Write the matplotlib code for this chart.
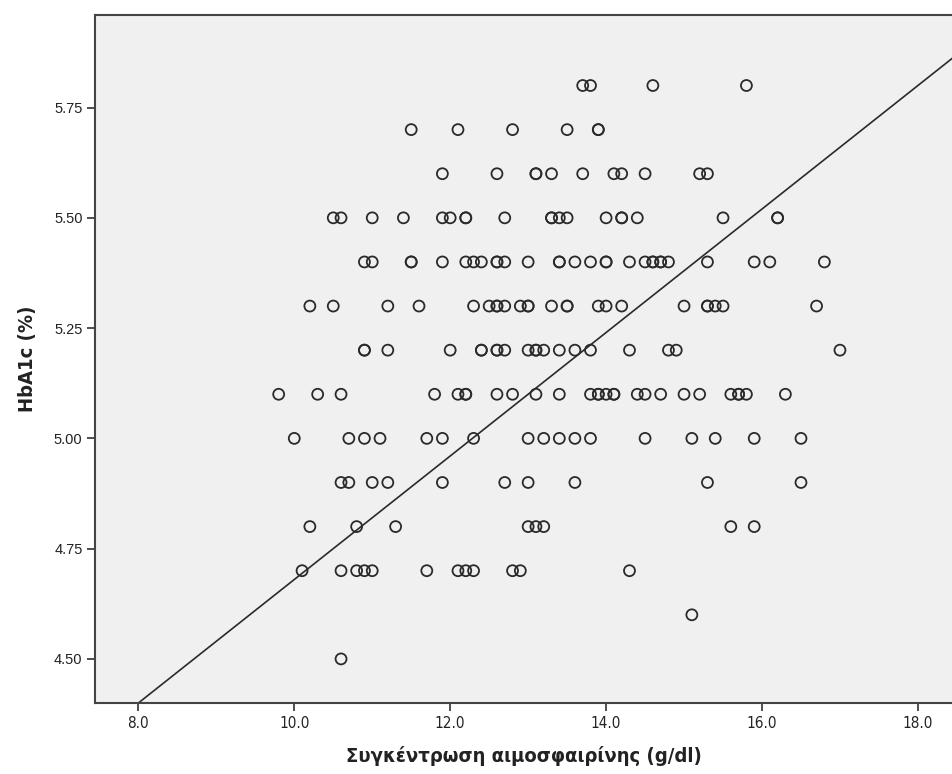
import numpy as np
import matplotlib
matplotlib.use("Agg")
from matplotlib import pyplot as plt

# Hemoglobin (g/dl) and HbA1c (%), one row of HbA1c per line
hemoglobin = [
    13.7, 13.8, 14.6, 15.8,
    11.5, 12.1, 12.8, 13.5, 13.9, 13.9,
    11.9, 12.6, 13.1, 13.1, 13.3, 13.7, 14.1, 14.2, 14.5, 15.2, 15.3,
    10.5, 10.6, 11.0, 11.4, 11.9, 12.0, 12.2, 12.2, 12.7, 13.3, 13.3, 13.4, 13.5, 14.0, 14.2, 14.2, 14.4, 15.5, 16.2, 16.2,
    10.9, 11.0, 11.5, 11.5, 11.9, 12.2, 12.3, 12.4, 12.6, 12.6, 12.7, 13.0, 13.4, 13.4, 13.6, 13.8, 14.0, 14.0, 14.3,
    14.5, 14.6, 14.6, 14.7, 14.7, 14.8, 15.3, 15.9, 16.1, 16.8,
    10.2, 10.5, 11.2, 11.6, 12.3, 12.5, 12.6, 12.6, 12.7, 12.9, 13.0, 13.0, 13.3, 13.5, 13.5, 13.9, 14.0, 14.2,
    15.0, 15.3, 15.3, 15.4, 15.5, 16.7,
    10.9, 10.9, 11.2, 12.0, 12.4, 12.4, 12.6, 12.6, 12.7, 13.0, 13.1, 13.1, 13.2, 13.4, 13.6, 13.8, 14.3, 14.8, 14.9, 17.0,
    9.8, 10.3, 10.6, 11.8, 12.1, 12.2, 12.2, 12.6, 12.8, 13.1, 13.4, 13.8, 13.9, 13.9, 14.0, 14.1, 14.1, 14.4, 14.5,
    14.7, 15.0, 15.2, 15.6, 15.7, 15.7, 15.8, 16.3,
    10.0, 10.7, 10.9, 11.1, 11.7, 11.9, 12.3, 13.0, 13.2, 13.4, 13.6, 13.8, 14.5, 15.1, 15.4, 15.9, 16.5,
    10.6, 10.7, 11.0, 11.2, 11.9, 12.7, 13.0, 13.6, 15.3, 16.5,
    10.2, 10.8, 11.3, 13.0, 13.1, 13.2, 15.6, 15.9,
    10.1, 10.6, 10.8, 10.9, 11.0, 11.7, 12.1, 12.2, 12.3, 12.8, 12.9, 14.3,
    15.1,
    10.6,
]
row_values = [5.80, 5.70, 5.60, 5.50, 5.40, 5.30, 5.20, 5.10, 5.00, 4.90, 4.80, 4.70, 4.60, 4.50]
row_counts = [4, 6, 11, 20, 29, 24, 20, 27, 17, 10, 8, 12, 1, 1]
hba1c = np.repeat(row_values, row_counts)

# fitted line
fit_intercept = 3.28
fit_slope = 0.140

x_ticks = [8.0, 10.0, 12.0, 14.0, 16.0, 18.0]
y_ticks = [4.50, 4.75, 5.00, 5.25, 5.50, 5.75]

narrow = ["Liberation Sans Narrow", "DejaVu Sans"]

fig = plt.figure(figsize=(9.53, 7.74), dpi=100)
ax = fig.add_axes([0.0997, 0.0917, 0.9003, 0.889])
ax.set_facecolor("#f0f0f0")

ax.scatter(hemoglobin, hba1c, s=62, facecolors="none", edgecolors="#2a2a2a", linewidths=1.3, zorder=3)

xs = np.array([7.0, 19.0])
ax.plot(xs, fit_intercept + fit_slope * xs, color="#2a2a2a", linewidth=1.2, zorder=2)

ax.set_xlim(7.444, 18.45)
ax.set_ylim(4.40, 5.96)
ax.set_xticks(x_ticks)
ax.set_xticklabels([f"{v:.1f}" for v in x_ticks], family=narrow, fontsize=11, fontstretch="condensed")
ax.set_yticks(y_ticks)
ax.set_yticklabels([f"{v:.2f}" for v in y_ticks], family=["Liberation Sans", "DejaVu Sans"], fontsize=10.5)
ax.tick_params(direction="out", length=6, width=1.3, color="#404040", labelcolor="#222222", pad=3)

for side in ["left", "bottom", "top"]:
    ax.spines[side].set_color("#444444")
    ax.spines[side].set_linewidth(1.5)
ax.spines["right"].set_visible(False)

ax.set_xlabel("Συγκέντρωση αιμοσφαιρίνης (g/dl)", family=narrow, fontstretch="condensed",
              fontsize=14.5, fontweight="bold", color="#222222", labelpad=11)
ax.set_ylabel("HbA1c (%)", family=narrow, fontstretch="condensed",
              fontsize=14.5, fontweight="bold", color="#222222", labelpad=12)

fig.savefig("out.png", dpi=100)
